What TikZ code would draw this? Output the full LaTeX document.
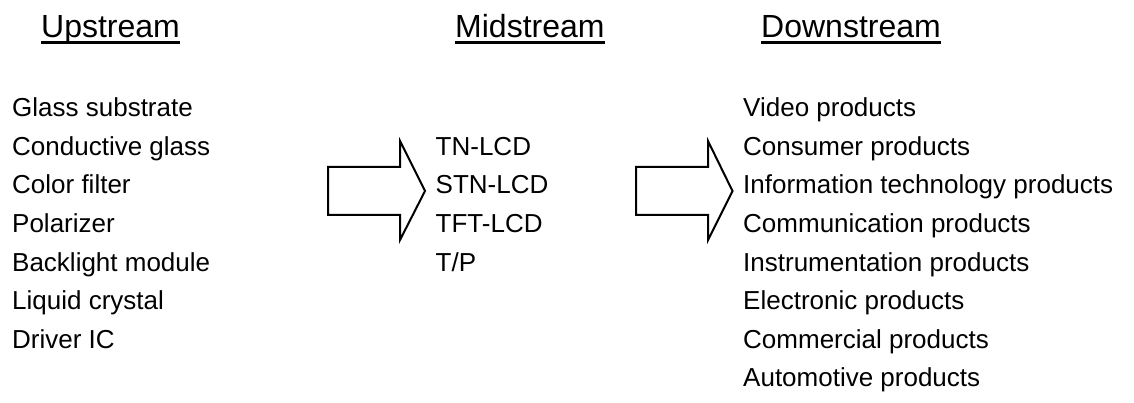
\documentclass[tikz,border=0pt]{standalone}
\usepackage{fontspec}
\setmainfont{Liberation Sans}
\begin{document}
\begin{tikzpicture}[x=1pt,y=-1pt,
  item/.style={anchor=base west,inner sep=0pt,font=\fontsize{26}{30}\selectfont},
  head/.style={anchor=base west,inner sep=0pt,font=\fontsize{32}{38}\selectfont},
  fatarrow/.style={draw=black,line width=2pt,line join=miter,fill=white}]
\useasboundingbox (0,0) rectangle (1134,403);

% column headings
\node[head] (up)   at (41,38)  {Upstream};
\node[head] (mid)  at (455,38) {Midstream};
\node[head] (down) at (761,38) {Downstream};
\foreach \h in {up,mid,down}
  \draw[line width=2.5pt] ([yshift=-4.5pt]\h.base west) -- ([yshift=-4.5pt]\h.base east);

% upstream materials
\foreach \t [count=\i from 0] in {Glass substrate,Conductive glass,Color filter,Polarizer,Backlight module,Liquid crystal,Driver IC}
  \node[item] (u\i) at (12,117+38.5*\i) {\t};

% midstream panels
\foreach \t [count=\i from 1] in {TN-LCD,STN-LCD,TFT-LCD,T/P}
  \node[item] (m\i) at (435.5,117+38.5*\i) {\t};

% downstream applications
\foreach \t [count=\i from 0] in {Video products,Consumer products,Information technology products,Communication products,Instrumentation products,Electronic products,Commercial products,Automotive products}
  \node[item] (d\i) at (743,117+38.5*\i) {\t};

% block arrows between the stages
\draw[fatarrow] (328,167) -- (400,167) -- (400,141) -- (425,191)
  -- (400,240) -- (400,215) -- (328,215) -- cycle;
\draw[fatarrow] (636,167) -- (708,167) -- (708,141) -- (732.5,191)
  -- (708,240) -- (708,215) -- (636,215) -- cycle;
\end{tikzpicture}
\end{document}
